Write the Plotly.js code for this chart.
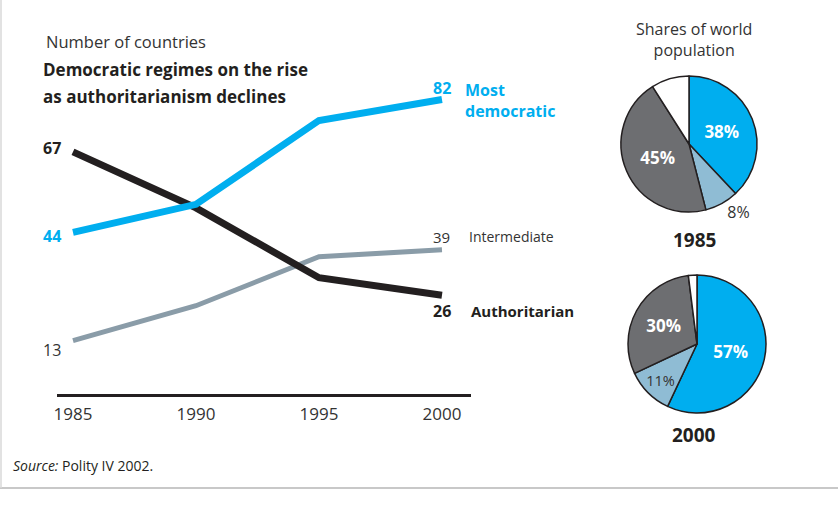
<!DOCTYPE html>
<html>
<head>
<meta charset="utf-8">
<script src="https://cdn.plot.ly/plotly-3.0.1.min.js"></script>
<style>html,body{margin:0;padding:0;background:#fff;}#chart{width:838px;height:506px;}</style>
</head>
<body>
<div id="chart"></div>
<script>
// ---- Data ----
const years = [1985, 1990, 1995, 2000];
const mostDemocratic = [44, 52, 76, 82];
const intermediate = [13, 23, 37, 39];
const authoritarian = [67, 51, 31, 26];

const pieLabels = ['Most democratic', 'Intermediate', 'Authoritarian', 'Other'];
const share1985 = [38, 8, 45, 9];
const share2000 = [57, 11, 30, 2];

const W = 838, H = 506;
const px = x => x / W;
const py = y => 1 - y / H;

const FONT = 'Open Sans, Liberation Sans, sans-serif';
const DARK = '#231f20';
const BLUE = '#00aeef';
const GRAYLINE = '#8a9ca8';
const LIGHTBLUE = '#8fbcd4';
const PIEGRAY = '#6d6e71';

const traces = [
  {x: years, y: intermediate, mode: 'lines', line: {color: GRAYLINE, width: 5}, hoverinfo: 'skip', showlegend: false},
  {x: years, y: authoritarian, mode: 'lines', line: {color: DARK, width: 7}, hoverinfo: 'skip', showlegend: false},
  {x: years, y: mostDemocratic, mode: 'lines', line: {color: BLUE, width: 7}, hoverinfo: 'skip', showlegend: false}
];

function pieTrace(vals, dom, textColors, bolds, positions, sizes) {
  return {
    type: 'pie', values: vals, labels: pieLabels, sort: false, direction: 'clockwise', rotation: 0,
    domain: dom,
    marker: {colors: [BLUE, LIGHTBLUE, PIEGRAY, '#ffffff'], line: {color: DARK, width: 1.5}},
    text: vals.map((v, i) => i === 3 ? '' : (bolds[i] ? '<b>' + v + '%</b>' : v + '%')),
    textinfo: 'text', textposition: positions,
    textfont: {family: FONT, size: sizes, color: textColors},
    insidetextorientation: 'horizontal',
    hoverinfo: 'skip', showlegend: false
  };
}

traces.push(pieTrace(share1985, {x: [px(621), px(757)], y: [py(212), py(76)]},
  ['#ffffff', '#333333', '#ffffff', '#333333'], [true, false, true, false],
  ['inside', 'outside', 'inside', 'none'], [17, 16, 17, 15]));
traces.push(pieTrace(share2000, {x: [px(628), px(766)], y: [py(413), py(275)]},
  ['#ffffff', '#333333', '#ffffff', '#333333'], [true, false, true, false],
  ['inside', 'inside', 'inside', 'none'], [17, 16, 17, 15]));

const ann = [];
function A(o) { ann.push(Object.assign({showarrow: false, font: {family: FONT, size: 16, color: DARK}}, o)); }

// headings
A({xref: 'paper', yref: 'paper', x: px(44), y: py(42), xanchor: 'left', yanchor: 'middle', text: 'Number of countries', font: {family: FONT, size: 16.5, color: '#333333'}});
A({xref: 'paper', yref: 'paper', x: px(41), y: py(70), xanchor: 'left', yanchor: 'middle',
   text: '<b>Democratic regimes on the rise</b>', font: {family: FONT, size: 17, color: DARK}});
A({xref: 'paper', yref: 'paper', x: px(41), y: py(96), xanchor: 'left', yanchor: 'middle',
   text: '<b>as authoritarianism declines</b>', font: {family: FONT, size: 17, color: DARK}});

// start labels
A({x: years[0], y: authoritarian[0], xanchor: 'right', yanchor: 'middle', xshift: -10, yshift: 4, text: '<b>' + authoritarian[0] + '</b>', font: {family: FONT, size: 16, color: DARK}});
A({x: years[0], y: mostDemocratic[0], xanchor: 'right', yanchor: 'middle', xshift: -10, yshift: -4, text: '<b>' + mostDemocratic[0] + '</b>', font: {family: FONT, size: 16, color: BLUE}});
A({x: years[0], y: intermediate[0], xanchor: 'right', yanchor: 'middle', xshift: -10, yshift: -9, text: String(intermediate[0]), font: {family: FONT, size: 16, color: '#333333'}});

// end labels
A({x: years[3], y: mostDemocratic[3], xanchor: 'center', yanchor: 'middle', yshift: 12, text: '<b>' + mostDemocratic[3] + '</b>', font: {family: FONT, size: 16, color: BLUE}});
A({x: years[3], y: mostDemocratic[3], xanchor: 'left', yanchor: 'top', xshift: 21, yshift: 23, align: 'left', text: '<b>Most<br>democratic</b>', font: {family: FONT, size: 16, color: BLUE}});
A({x: years[3], y: intermediate[3], xanchor: 'center', yanchor: 'middle', yshift: 13, text: String(intermediate[3]), font: {family: FONT, size: 15, color: '#333333'}});
A({x: years[3], y: intermediate[3], xanchor: 'left', yanchor: 'middle', xshift: 25, yshift: 13, text: 'Intermediate', font: {family: FONT, size: 14, color: '#333333'}});
A({x: years[3], y: authoritarian[3], xanchor: 'center', yanchor: 'middle', yshift: -16, text: '<b>' + authoritarian[3] + '</b>', font: {family: FONT, size: 16, color: DARK}});
A({x: years[3], y: authoritarian[3], xanchor: 'left', yanchor: 'middle', xshift: 27, yshift: -16, text: '<b>Authoritarian</b>', font: {family: FONT, size: 15, color: DARK}});

// pie titles
A({xref: 'paper', yref: 'paper', x: px(694), y: py(39), xanchor: 'center', yanchor: 'middle', align: 'center', text: 'Shares of world<br>population', font: {family: FONT, size: 16, color: '#333333'}});
A({xref: 'paper', yref: 'paper', x: px(694), y: py(240), xanchor: 'center', yanchor: 'middle', text: '<b>1985</b>', font: {family: FONT, size: 19, color: DARK}});
A({xref: 'paper', yref: 'paper', x: px(694), y: py(435), xanchor: 'center', yanchor: 'middle', text: '<b>2000</b>', font: {family: FONT, size: 19, color: DARK}});

// source
A({xref: 'paper', yref: 'paper', x: px(11), y: py(465), xanchor: 'left', yanchor: 'middle', text: '<i>Source:</i> Polity IV 2002.', font: {family: FONT, size: 14, color: DARK}});

const layout = {
  width: W, height: H,
  margin: {l: 0, r: 0, t: 0, b: 0, pad: 0},
  paper_bgcolor: '#ffffff', plot_bgcolor: '#ffffff',
  xaxis: {domain: [px(57), px(471)], range: [1984.35, 2001.18], showgrid: false, zeroline: false,
          showline: true, linecolor: DARK, linewidth: 2.5, ticks: '', tickvals: years, ticklabelstandoff: 3,
          ticktext: years.map(String), tickfont: {family: FONT, size: 17, color: '#333333'}, fixedrange: true},
  yaxis: {domain: [py(394), py(60)], range: [-2.26, 93.3], visible: false, fixedrange: true},
  annotations: ann,
  shapes: [
    {type: 'line', xref: 'paper', yref: 'paper', x0: 0, x1: 1, y0: py(488), y1: py(488), line: {color: '#c8c8c8', width: 2}},
    {type: 'line', xref: 'paper', yref: 'paper', x0: px(1), x1: px(1), y0: py(488), y1: 1, line: {color: '#d8d8d8', width: 1.5}}
  ]
};

Plotly.newPlot('chart', traces, layout, {displayModeBar: false, staticPlot: true});
</script>
</body>
</html>
